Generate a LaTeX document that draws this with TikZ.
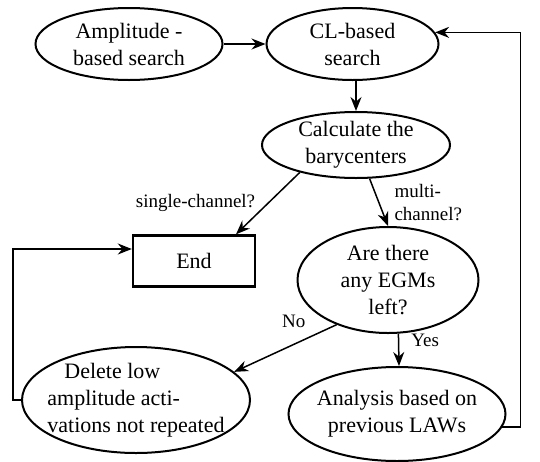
\documentclass[tikz,border=0pt]{standalone}
\usepackage{fontspec}
\setmainfont{Liberation Serif}
\usepackage{tikz}
\usetikzlibrary{arrows.meta, positioning, shapes.geometric}

\tikzset{
  ell/.style={draw, ellipse, line width=2pt, inner sep=-15pt, align=center,
    font=\rmfamily\fontsize{22}{27}\selectfont},
  endbox/.style={draw, rectangle, line width=2.4pt, minimum width=122pt, minimum height=51pt,
    font=\rmfamily\fontsize{22}{27}\selectfont},
  lbl/.style={font=\rmfamily\fontsize{19}{23}\selectfont, inner sep=0pt},
}

\begin{document}
\begin{tikzpicture}[x=1pt, y=-1pt, >={Stealth[length=14pt, width=11pt]}, line width=1.5pt, node distance=42pt]
  \useasboundingbox (0,0) rectangle (540,461);
  % top row
  \node[ell, minimum width=187pt, minimum height=72pt] (amp) at (129,44) {Amplitude -\\based search};
  \node[ell, minimum width=172pt, minimum height=72pt, right=of amp] (cl) {CL-based\\search};
  \node[ell, minimum width=188pt, minimum height=66pt] (bary) at (356,145) {Calculate the\\barycenters};
  % middle
  \node[endbox] (end) at (194,261) {End};
  \node[ell, minimum width=181pt, minimum height=106pt] (egm) at (388,280) {Are there\\any EGMs\\left?};
  % bottom row
  \node[ell, minimum width=228pt, minimum height=106pt, align=left] (del) at (136,400)
    {\hspace{17pt}Delete low\\amplitude acti-\\vations not repeated};
  \node[ell, minimum width=217pt, minimum height=94pt] (ana) at (397,414) {Analysis based on\\previous LAWs};

  \draw[->] (amp) -- (cl);
  \draw[->] (bary.north |- cl.south) -- (bary.north);
  \draw[->] (bary.206) -- ([xshift=42pt]end.north) node[lbl, pos=0.5, left=12pt] (single) {single-channel?};
  \draw[->] (bary.292) -- (egm.north) node[lbl, midway, right=15pt, align=left] (multi) {multi-\\channel?};
  \draw[->] (egm.221) -- (del.16) node[lbl, pos=0.2, above left=6pt and 10pt] (no) {No};
  \draw[->] (egm.281) -- ([xshift=2pt]ana.north) node[lbl, pos=0.22, right=12pt] (yes) {Yes};
  % feedback loops
  \draw[->] (ana.-7) -- ++(18,0) |- (cl.8);
  \draw[->] (del.west) -- ++(-8,0) |- ([yshift=12pt]end.west);
\end{tikzpicture}
\end{document}
